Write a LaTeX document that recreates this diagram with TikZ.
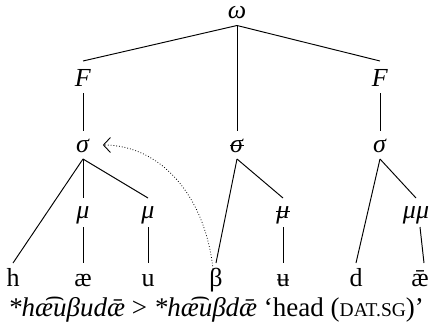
\documentclass[tikz,border=0pt]{standalone}
\usepackage{fontspec}
\setmainfont{Liberation Serif}
\usetikzlibrary{arrows.meta}
\newcommand\strk[1]{\ooalign{#1\cr\hidewidth\rule[0.22em]{0.55em}{0.05em}\hidewidth\cr}}
\newcommand\fakesc[1]{{\fontsize{19.5}{22}\selectfont #1}}
\begin{document}
\begin{tikzpicture}[x=1pt,y=-1pt,
  lab/.style={inner sep=0pt, outer xsep=0pt, outer ysep=5pt, anchor=base,
    font=\fontsize{26}{30}\selectfont, text height=16pt, text depth=2pt},
  toplab/.style={lab, text height=8pt, outer ysep=2pt, text depth=5pt},
  Flab/.style={lab, text height=20pt},
  mlab/.style={lab, text height=15pt, text depth=4pt},
  seg/.style={lab, text height=18pt},
  edge/.style={line width=0.95pt},
  mv/.style={dotted, line width=0.8pt, -{Straight Barb[length=7pt,width=15pt,line width=0.9pt]}}]
\useasboundingbox (0,0) rectangle (431,329);
% tree labels
\node[toplab] (om) at (237,18.5)  {\textit{ω}};
\node[Flab] (F1) at (83,86)   {\textit{F}};
\node[Flab] (F2) at (380,86)  {\textit{F}};
\node[lab]  (s1) at (83,152)  {\textit{σ}};
\node[lab]  (s2) at (237,152) {\strk{\textit{σ}}};
\node[lab]  (s3) at (380,152) {\textit{σ}};
\node[mlab] (m1) at (83,218)  {\textit{μ}};
\node[mlab] (m2) at (148,218) {\textit{μ}};
\node[mlab] (m3) at (283,218) {\strk{\textit{μ}}};
\node[mlab] (m4) at (416,218) {\textit{μμ}};
% segments
\node[seg] (h)  at (13,286)  {h};
\node[seg] (ae) at (83,286)  {æ};
\node[seg] (u)  at (148,286) {u};
\node[seg] (b)  at (216,286) {β};
\node[seg] (ub) at (283,286) {ʉ};
\node[seg] (d)  at (356,286) {d};
\node[seg] (aa) at (420,286) {ǣ};
% caption
\node[anchor=base, inner sep=0pt, font=\fontsize{27}{30}\selectfont] (cap) at (216,316)
  {\textit{*hæ͡uβudǣ} > \textit{*hæ͡uβdǣ} ‘head (\fakesc{DAT.SG})’};
% edges
\draw[edge] (om.south) -- (F1.north);
\draw[edge] (om.south) -- (s2.north);
\draw[edge] (om.south) -- (F2.north);
\draw[edge] (F1.south) -- (s1.north);
\draw[edge] (F2.south) -- (s3.north);
\draw[edge] (s1.south) -- (h.north);
\draw[edge] (s1.south) -- (m1.north);
\draw[edge] (s1.south) -- (m2.north);
\draw[edge] (m1.south) -- (ae.north);
\draw[edge] (m2.south) -- (u.north);
\draw[edge] (s2.south) -- (b.north);
\draw[edge] (s2.south) -- (m3.north);
\draw[edge] (m3.south) -- (ub.north);
\draw[edge] (s3.south) -- (d.north);
\draw[edge] (s3.south) -- (m4.north);
\draw[edge] ([xshift=4pt]m4.south) -- ([xshift=4pt]aa.north);
% dotted arrow
\draw[mv, shorten >=13pt] ([xshift=-3pt,yshift=-6pt]b.north) .. controls (205,195) and (160,145) .. (s1.east);
\end{tikzpicture}
\end{document}
